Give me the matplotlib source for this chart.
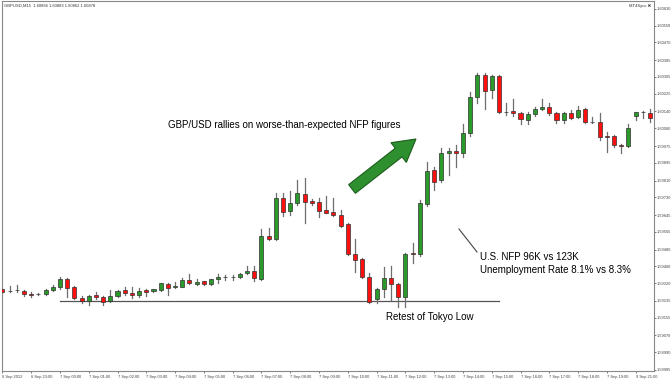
import matplotlib
matplotlib.use("Agg")
import matplotlib.pyplot as plt
import matplotlib.patches as mpatches
from matplotlib.lines import Line2D

# ---------------- data (GBPUSD M15) ----------------
opens = [1.59292, 1.59283, 1.59286, 1.59284, 1.59266, 1.59267, 1.59268, 1.59287, 1.59302, 1.59340,
         1.59302, 1.59249, 1.59235, 1.59264, 1.59253, 1.59235, 1.59258, 1.59287, 1.59274, 1.59263,
         1.59286, 1.59281, 1.59286, 1.59318, 1.59302, 1.59303, 1.59335, 1.59316, 1.59329, 1.59316,
         1.59338, 1.59349, 1.59350, 1.59349, 1.59367, 1.59378, 1.59340, 1.59545, 1.59531, 1.59727,
         1.59665, 1.59703, 1.59746, 1.59713, 1.59708, 1.59670, 1.59660, 1.59646, 1.59603, 1.59460,
         1.59436, 1.59350, 1.59244, 1.59292, 1.59345, 1.59316, 1.59253, 1.59464, 1.59460, 1.59698,
         1.59861, 1.59813, 1.59942, 1.59951, 1.59942, 1.60038, 1.60209, 1.60315, 1.60243, 1.60310,
         1.60138, 1.60143, 1.60133, 1.60100, 1.60128, 1.60152, 1.60162, 1.60133, 1.60100, 1.60133,
         1.60114, 1.60152, 1.60090, 1.60090, 1.60023, 1.60023, 1.59980, 1.59975, 1.60118, 1.60138,
         1.60133]
highs = [1.59297, 1.59306, 1.59311, 1.59287, 1.59278, 1.59273, 1.59292, 1.59311, 1.59350, 1.59345,
         1.59304, 1.59258, 1.59263, 1.59278, 1.59258, 1.59287, 1.59287, 1.59302, 1.59303, 1.59298,
         1.59292, 1.59293, 1.59321, 1.59321, 1.59327, 1.59345, 1.59364, 1.59338, 1.59332, 1.59341,
         1.59364, 1.59359, 1.59359, 1.59369, 1.59402, 1.59402, 1.59579, 1.59584, 1.59751, 1.59751,
         1.59760, 1.59813, 1.59823, 1.59722, 1.59727, 1.59736, 1.59727, 1.59670, 1.59607, 1.59531,
         1.59441, 1.59369, 1.59297, 1.59397, 1.59402, 1.59321, 1.59464, 1.59512, 1.59717, 1.59899,
         1.59875, 1.59966, 1.59966, 1.59980, 1.60081, 1.60233, 1.60324, 1.60324, 1.60315, 1.60315,
         1.60181, 1.60200, 1.60138, 1.60138, 1.60162, 1.60200, 1.60181, 1.60138, 1.60138, 1.60147,
         1.60166, 1.60157, 1.60114, 1.60133, 1.60043, 1.60028, 1.59985, 1.60081, 1.60138, 1.60143,
         1.60152]
lows = [1.59273, 1.59278, 1.59278, 1.59258, 1.59253, 1.59263, 1.59263, 1.59282, 1.59292, 1.59253,
        1.59244, 1.59225, 1.59216, 1.59244, 1.59216, 1.59230, 1.59253, 1.59263, 1.59249, 1.59253,
        1.59258, 1.59278, 1.59282, 1.59263, 1.59297, 1.59302, 1.59316, 1.59312, 1.59312, 1.59312,
        1.59319, 1.59335, 1.59335, 1.59345, 1.59364, 1.59332, 1.59335, 1.59526, 1.59526, 1.59641,
        1.59646, 1.59693, 1.59607, 1.59693, 1.59636, 1.59653, 1.59641, 1.59588, 1.59455, 1.59373,
        1.59345, 1.59225, 1.59225, 1.59253, 1.59240, 1.59206, 1.59206, 1.59416, 1.59450, 1.59689,
        1.59765, 1.59803, 1.59837, 1.59875, 1.59923, 1.60023, 1.60181, 1.60152, 1.60205, 1.60133,
        1.60123, 1.60118, 1.60081, 1.60081, 1.60118, 1.60147, 1.60123, 1.60086, 1.60086, 1.60104,
        1.60109, 1.60086, 1.60086, 1.60004, 1.59947, 1.59971, 1.59942, 1.59971, 1.60100, 1.60109,
        1.60090]
closes = [1.59278, 1.59282, 1.59285, 1.59266, 1.59265, 1.59268, 1.59287, 1.59302, 1.59340, 1.59297,
          1.59249, 1.59235, 1.59258, 1.59255, 1.59230, 1.59258, 1.59282, 1.59273, 1.59263, 1.59282,
          1.59279, 1.59290, 1.59319, 1.59298, 1.59304, 1.59335, 1.59319, 1.59327, 1.59316, 1.59340,
          1.59350, 1.59350, 1.59349, 1.59364, 1.59380, 1.59346, 1.59545, 1.59531, 1.59727, 1.59660,
          1.59703, 1.59751, 1.59708, 1.59703, 1.59665, 1.59655, 1.59646, 1.59593, 1.59460, 1.59431,
          1.59350, 1.59230, 1.59292, 1.59345, 1.59316, 1.59253, 1.59460, 1.59457, 1.59703, 1.59856,
          1.59803, 1.59942, 1.59951, 1.59942, 1.60038, 1.60209, 1.60315, 1.60238, 1.60310, 1.60138,
          1.60137, 1.60133, 1.60104, 1.60128, 1.60152, 1.60162, 1.60133, 1.60100, 1.60133, 1.60109,
          1.60147, 1.60090, 1.60091, 1.60019, 1.60019, 1.59980, 1.59975, 1.60062, 1.60138, 1.60137,
          1.60109]

xtick_labels = ["6 Sep 2012", "6 Sep 23:00", "7 Sep 00:00", "7 Sep 01:00", "7 Sep 02:00",
                "7 Sep 03:00", "7 Sep 04:00", "7 Sep 05:00", "7 Sep 06:00", "7 Sep 07:00",
                "7 Sep 08:00", "7 Sep 09:00", "7 Sep 10:00", "7 Sep 11:00", "7 Sep 12:00",
                "7 Sep 13:00", "7 Sep 14:00", "7 Sep 15:00", "7 Sep 16:00", "7 Sep 17:00",
                "7 Sep 18:00", "7 Sep 19:00", "9 Sep 21:00"]
xtick_bars = [0, 4, 8, 12, 16, 20, 24, 28, 32, 36, 40, 44, 48, 52, 56, 60, 64, 68, 72, 76, 80, 84, 88]

ytick_labels = ["1.60630", "1.60550", "1.60470", "1.60385", "1.60305", "1.60225", "1.60140",
                "1.60060", "1.59975", "1.59895", "1.59810", "1.59730", "1.59645", "1.59565",
                "1.59480", "1.59400", "1.59320", "1.59235", "1.59155", "1.59070", "1.58990",
                "1.58905"]

tokyo_low = 1.59235
tokyo_low_span = (8, 69)

# ---------------- figure ----------------
W, H = 672, 381
fig = plt.figure(figsize=(W / 100, H / 100), dpi=100)
fig.patch.set_facecolor("white")
ax = fig.add_axes([2 / W, 10 / H, 652 / W, 370 / H])
ax.set_facecolor("white")

GREEN = "#2a9a2a"
RED = "#ff1010"
WICK = "#6e6e6e"
EDGE = "#303030"
bw = 0.56

for i, (o, h, l, c) in enumerate(zip(opens, highs, lows, closes)):
    ax.add_line(Line2D([i, i], [l, h], color=WICK, lw=0.9, zorder=2))
    lo, hi = min(o, c), max(o, c)
    col = GREEN if c >= o else RED
    height = max(hi - lo, 0.000012)
    ax.add_patch(mpatches.Rectangle((i - bw / 2, lo), bw, height, facecolor=col,
                                    edgecolor=EDGE, lw=0.5, zorder=3))

# retest line
ax.plot(tokyo_low_span, [tokyo_low, tokyo_low], color="#555555", lw=0.9, zorder=1)

ax.set_xlim(-0.05, 90.55)
ax.set_ylim(1.58900, 1.60668)

TF = "Liberation Sans"
ax.yaxis.tick_right()
ax.set_yticks([float(v) for v in ytick_labels])
ax.set_yticklabels(ytick_labels, family=TF)
ax.set_xticks(xtick_bars)
ax.set_xticklabels(xtick_labels, ha="left", family=TF)
ax.tick_params(axis="y", labelsize=2.9, length=1.2, width=0.5, colors="#444444", pad=0.8)
ax.tick_params(axis="x", labelsize=2.9, length=1.2, width=0.5, colors="#444444", pad=1.5)
for sp in ax.spines.values():
    sp.set_color("#888888")
    sp.set_linewidth(0.8)

# header texts
fig.text(4 / W, 1 - 6 / H, "GBPUSD,M15  1.60866 1.60883 1.60862 1.60878", fontsize=3.0,
         color="#333333", va="center", ha="left", family=TF)
fig.text(651 / W, 1 - 6 / H, "MT4Sync \u2716", fontsize=3.0, color="#333333",
         va="center", ha="right", family=[TF, "DejaVu Sans"])

# annotations
fig.text(168 / W, 1 - 125 / H, "GBP/USD rallies on worse-than-expected NFP figures",
         fontsize=7, family=TF, va="center", ha="left", color="black")
fig.text(480 / W, 1 - 257 / H, "U.S. NFP 96K vs 123K", fontsize=7, family=TF,
         va="center", ha="left", color="black")
fig.text(480 / W, 1 - 270 / H, "Unemployment Rate 8.1% vs 8.3%", fontsize=7, family=TF,
         va="center", ha="left", color="black")
fig.text(386 / W, 1 - 317 / H, "Retest of Tokyo Low", fontsize=7, family=TF,
         va="center", ha="left", color="black")

# pointer line to NFP candle
fig.add_artist(Line2D([459, 477], [H - 229, H - 252], transform=None,
                      color="#444444", lw=0.8))

# big green arrow
arrow = mpatches.FancyArrow(352, H - 189, 64, 50, width=11, head_width=25, head_length=22,
                            length_includes_head=True, transform=None,
                            facecolor="#2e8f2e", edgecolor="#1d5e1d", lw=0.8)
fig.add_artist(arrow)

fig.savefig("out.png", dpi=100)
